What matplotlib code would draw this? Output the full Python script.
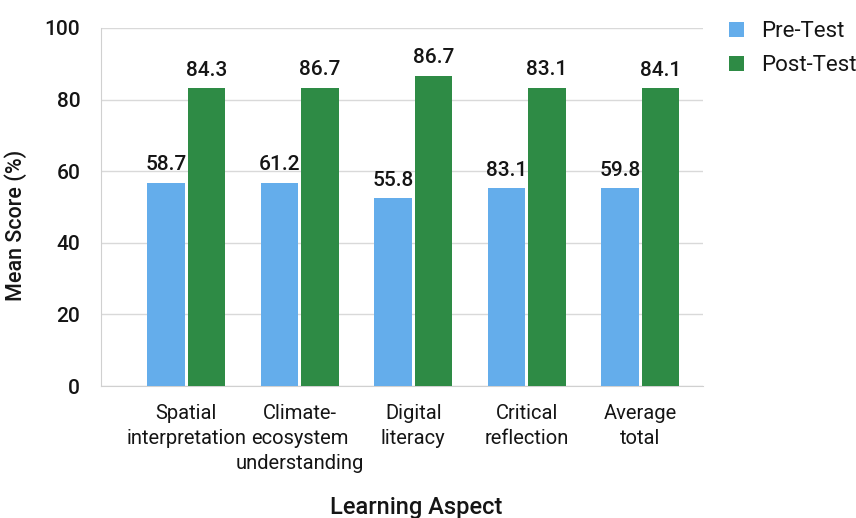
import matplotlib

matplotlib.use("Agg")
import matplotlib.pyplot as plt
import numpy as np

plt.rcParams["font.family"] = ["Roboto", "DejaVu Sans"]

aspects = [
    "Spatial\ninterpretation",
    "Climate-\necosystem\nunderstanding",
    "Digital\nliteracy",
    "Critical\nreflection",
    "Average\ntotal",
]
# bar heights as drawn in the source figure
pre_test = [56.8, 56.8, 52.4, 55.2, 55.2]
post_test = [83.1, 83.3, 86.7, 83.3, 83.1]
# value labels as printed above the bars
pre_labels = ["58.7", "61.2", "55.8", "83.1", "59.8"]
post_labels = ["84.3", "86.7", "86.7", "83.1", "84.1"]
yticks = [0, 20, 40, 60, 80, 100]

BLUE = "#64adeb"
GREEN = "#2e8b45"
INK = "#151515"

fig = plt.figure(figsize=(8.56, 5.18), dpi=100)
ax = fig.add_axes([0.118, 0.2548, 0.703, 0.6912])

x = np.arange(len(aspects))
w = 0.33
off = 0.178
b1 = ax.bar(x - off, pre_test, w, color=BLUE, label="Pre-Test", zorder=3)
b2 = ax.bar(x + off, post_test, w, color=GREEN, label="Post-Test", zorder=3)

for bars, labels in ((b1, pre_labels), (b2, post_labels)):
    for bar, lab in zip(bars, labels):
        ax.annotate(
            lab,
            (bar.get_x() + bar.get_width() / 2, bar.get_height()),
            xytext=(0, 6),
            textcoords="offset points",
            ha="center",
            va="bottom",
            fontsize=15,
            fontweight="medium",
            color=INK,
        )

ax.set_xlim(-0.75, 4.55)
ax.set_ylim(0, 100)
ax.set_yticks(yticks)
ax.set_xticks(x)
ax.set_xticklabels(aspects, fontsize=14.5, linespacing=1.4, color=INK)
for t in ax.get_yticklabels():
    t.set_fontweight("medium")
ax.tick_params(axis="y", labelsize=15, length=0, pad=15, labelcolor=INK)
ax.tick_params(axis="x", length=0, pad=13)
ax.grid(axis="y", color="#d9d9d9", linewidth=1, zorder=0)
for s in ("top", "right"):
    ax.spines[s].set_visible(False)
ax.spines["left"].set_color("#d0d0d0")
ax.spines["bottom"].set_color("#d0d0d0")

ax.set_ylabel("Mean Score (%)", fontsize=15.5, fontweight="medium", color=INK)
ax.yaxis.set_label_coords(-0.123, 0.45)
fig.text(0.486, 0.008, "Learning Aspect", fontsize=17, fontweight="medium",
         ha="center", va="baseline", color=INK)

ax.legend(
    loc="upper left",
    bbox_to_anchor=(1.01, 1.075),
    frameon=False,
    fontsize=16,
    handlelength=0.7,
    handleheight=0.7,
    handletextpad=0.75,
    labelspacing=0.6,
    labelcolor=INK,
)

fig.savefig("out.png", dpi=100)
